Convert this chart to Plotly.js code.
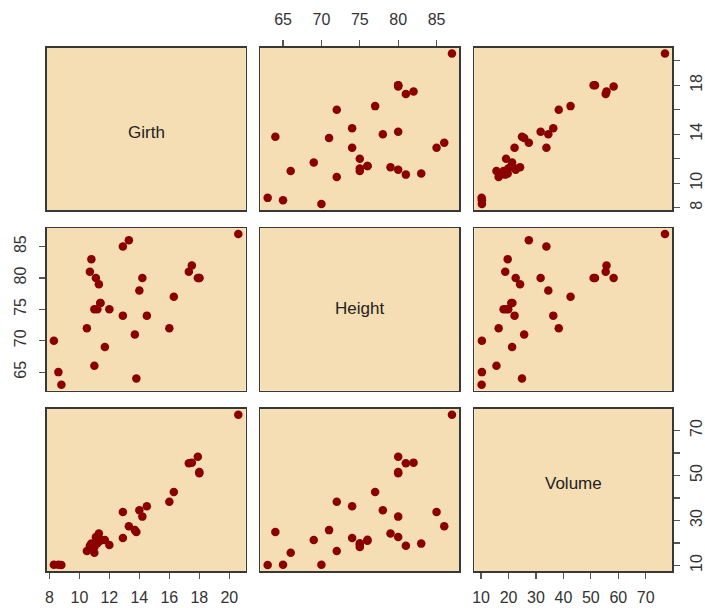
<!DOCTYPE html>
<html>
<head>
<meta charset="utf-8">
<script src="https://cdn.plot.ly/plotly-3.0.1.min.js"></script>
<style>html,body{margin:0;padding:0;background:#fff;}#chart{width:705px;height:608px;}</style>
</head>
<body>
<div id="chart"></div>
<script>
// trees data
const girth  = [8.3,8.6,8.8,10.5,10.7,10.8,11.0,11.0,11.1,11.2,11.3,11.4,11.4,11.7,12.0,12.9,12.9,13.3,13.7,13.8,14.0,14.2,14.5,16.0,16.3,17.3,17.5,17.9,18.0,18.0,20.6];
const height = [70,65,63,72,81,83,66,75,80,75,79,76,76,69,75,74,85,86,71,64,78,80,74,72,77,81,82,80,80,80,87];
const volume = [10.3,10.3,10.2,16.4,18.8,19.7,15.6,18.2,22.6,19.9,24.2,21.0,21.4,21.3,19.1,22.2,33.8,27.4,25.7,24.9,34.5,31.7,36.3,38.3,42.6,55.4,55.7,58.3,51.5,51.0,77.0];
const varNames = ["Girth","Height","Volume"];

const girthTicks = [8,10,12,14,16,18,20];
const girthLabelsX = ["8","10","12","14","16","18","20"];
const girthLabelsY = ["8","10","","14","","18",""];
const heightTicks = [65,70,75,80,85];
const heightLabels = ["65","70","75","80","85"];
const volumeTicks = [10,20,30,40,50,60,70];
const volumeLabelsX = ["10","20","30","40","50","60","70"];
const volumeLabelsY = ["10","","30","","50","","70"];

const vars = [girth, height, volume];
function extRange(a){const mn=Math.min(...a),mx=Math.max(...a),d=(mx-mn)*0.04;return [mn-d,mx+d];}
const ranges = vars.map(extRange);

const W=705,H=608;
const colPx = [[46.5,245.7],[260.3,459.3],[474.3,672.3]];
const rowPx = [[47.5,210],[228,390.7],[408.7,571]];
const labelShift = [-4, 1, 6];

const xTickInfo = {"2,0":{side:"bottom",vals:girthTicks,text:girthLabelsX},
                   "0,1":{side:"top",vals:heightTicks,text:heightLabels},
                   "2,2":{side:"bottom",vals:volumeTicks,text:volumeLabelsX}};
const yTickInfo = {"0,2":{side:"right",vals:girthTicks,text:girthLabelsY},
                   "1,0":{side:"left",vals:heightTicks,text:heightLabels},
                   "2,2":{side:"right",vals:volumeTicks,text:volumeLabelsY}};

const traces=[]; const layout={width:W,height:H,margin:{l:0,r:0,t:0,b:0},
  paper_bgcolor:"#ffffff",plot_bgcolor:"#F5DEB3",showlegend:false,
  font:{family:"Liberation Sans, Arial, sans-serif",size:16,color:"#333"},annotations:[]};

for(let i=0;i<3;i++){for(let j=0;j<3;j++){
  const k=i*3+j+1; const xa="xaxis"+(k===1?"":k), ya="yaxis"+(k===1?"":k);
  const xr="x"+(k===1?"":k), yr="y"+(k===1?"":k);
  const key=i+","+j;
  const xt=xTickInfo[key], yt=yTickInfo[key];
  const common={showgrid:false,zeroline:false,showline:true,mirror:true,linecolor:"#383838",linewidth:1.5,fixedrange:true,
    ticklen:6,tickwidth:1.2,tickcolor:"#555",tickfont:{size:16,color:"#333"}};
  layout[xa]=Object.assign({},common,{anchor:yr,range:ranges[j],domain:[colPx[j][0]/W,colPx[j][1]/W],
    ticks:xt?"outside":"",showticklabels:!!xt,side:xt?xt.side:"bottom",tickmode:"array",
    tickvals:xt?xt.vals:[],ticktext:xt?xt.text:[],ticklabelstandoff:(xt&&xt.side==="top")?9:5});
  layout[ya]=Object.assign({},common,{anchor:xr,range:ranges[i],domain:[1-rowPx[i][1]/H,1-rowPx[i][0]/H],
    ticks:yt?"outside":"",showticklabels:!!yt,side:yt?yt.side:"left",tickmode:"array",tickangle:-90,
    tickvals:yt?yt.vals:[],ticktext:yt?yt.text:[],ticklabelstandoff:(yt&&yt.side==="right")?3:7});
  if(i===j){
    layout.annotations.push({xref:xr+" domain",yref:yr+" domain",x:0.5,y:0.5,text:varNames[i],showarrow:false,
      font:{size:17,color:"#222"},xanchor:"center",yanchor:"middle",yshift:labelShift[i]});
    traces.push({type:"scatter",x:[],y:[],xaxis:xr,yaxis:yr,mode:"markers"});
  } else {
    traces.push({type:"scatter",mode:"markers",x:vars[j],y:vars[i],xaxis:xr,yaxis:yr,
      marker:{color:"#8B0000",size:8.5,line:{width:0}},cliponaxis:false});
  }
}}
Plotly.newPlot("chart",traces,layout,{staticPlot:true,displayModeBar:false});
</script>
</body>
</html>
